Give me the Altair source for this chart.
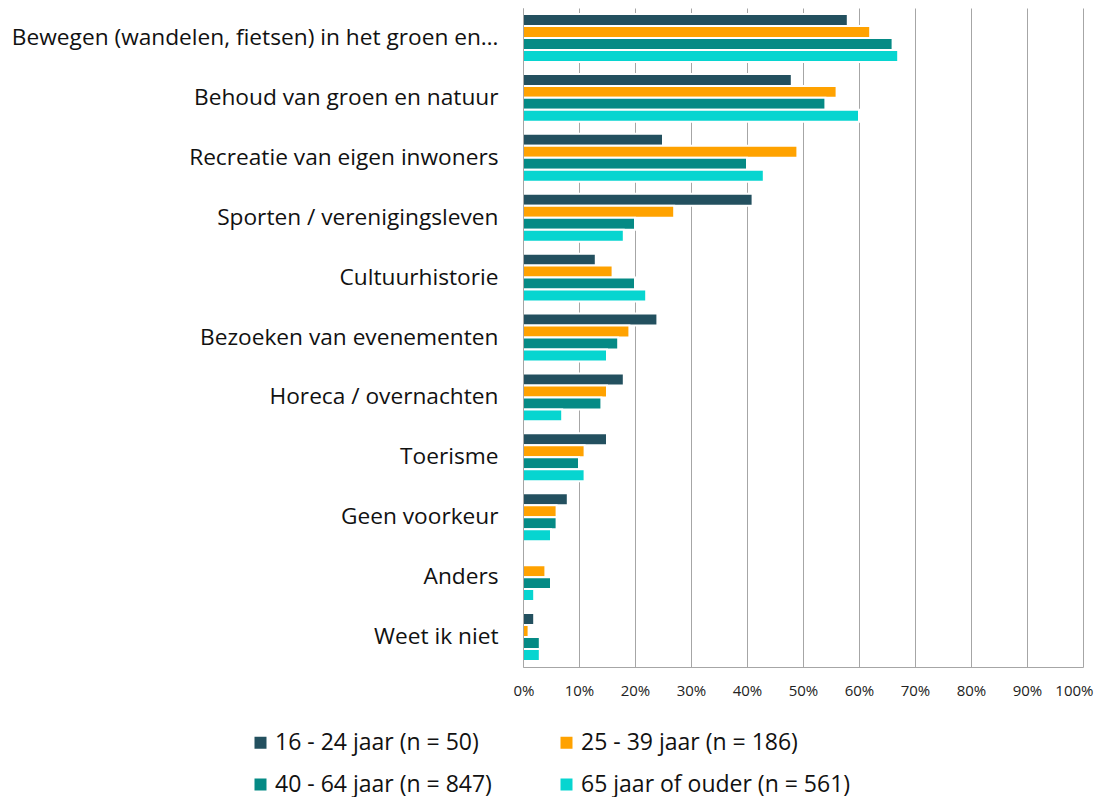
import altair as alt
import pandas as pd

categories = [
    "Bewegen (wandelen, fietsen) in het groen en…",
    "Behoud van groen en natuur",
    "Recreatie van eigen inwoners",
    "Sporten / verenigingsleven",
    "Cultuurhistorie",
    "Bezoeken van evenementen",
    "Horeca / overnachten",
    "Toerisme",
    "Geen voorkeur",
    "Anders",
    "Weet ik niet",
]
groups = [
    "16 - 24 jaar (n = 50)",
    "25 - 39 jaar (n = 186)",
    "40 - 64 jaar (n = 847)",
    "65 jaar of ouder (n = 561)",
]
v_16_24 = [58, 48, 25, 41, 13, 24, 18, 15, 8, 0, 2]
v_25_39 = [62, 56, 49, 27, 16, 19, 15, 11, 6, 4, 1]
v_40_64 = [66, 54, 40, 20, 20, 17, 14, 10, 6, 5, 3]
v_65 = [67, 60, 43, 18, 22, 15, 7, 11, 5, 2, 3]
colors = ["#23505F", "#FFA200", "#058A85", "#07D5D0"]

rows = []
for g, vals in zip(groups, [v_16_24, v_25_39, v_40_64, v_65]):
    for c, v in zip(categories, vals):
        rows.append({"cat": c, "group": g, "value": v})
df = pd.DataFrame(rows)

FONT = "Open Sans"

chart = alt.Chart(df).mark_bar(stroke="white", strokeWidth=2).encode(
    x=alt.X(
        "value:Q",
        scale=alt.Scale(domain=[0, 100]),
        axis=alt.Axis(
            values=list(range(0, 101, 10)),
            labelExpr="datum.value + '%'",
            labelFlush=True,
            labelFlushOffset=10,
            grid=True,
            gridColor="#A6A6A6",
            gridWidth=1,
            domainColor="#A6A6A6",
            ticks=False,
            labelFontSize=15,
            labelPadding=16,
            labelColor="#222222",
            title=None,
        ),
    ),
    y=alt.Y(
        "cat:N",
        sort=categories,
        scale=alt.Scale(paddingInner=0.2, paddingOuter=0.1),
        axis=alt.Axis(
            title=None,
            ticks=False,
            domainColor="#A6A6A6",
            labelFontSize=22.7,
            labelPadding=25,
            labelLimit=0,
            labelColor="#111111",
            zindex=1,
        ),
    ),
    yOffset=alt.YOffset("group:N", sort=groups, scale=alt.Scale(paddingInner=0, paddingOuter=0)),
    color=alt.Color(
        "group:N",
        sort=groups,
        scale=alt.Scale(domain=groups, range=colors),
        legend=alt.Legend(
            title=None,
            orient="none",
            legendX=-274,
            legendY=723,
            direction="horizontal",
            columns=2,
            symbolType="square",
            symbolSize=144,
            symbolStrokeWidth=0,
            labelFontSize=23,
            labelOffset=3,
            labelColor="#111111",
            columnPadding=63,
            rowPadding=18,
            padding=0,
            labelLimit=0,
        ),
    ),
).properties(
    width=560,
    height=659,
    autosize=alt.AutoSizeParams(type="none"),
    padding={"left": 515, "right": 14, "top": 0, "bottom": 130},
).configure(font=FONT).configure_view(stroke=None)

chart.save("out.html", embed_options={"renderer": "svg", "actions": False})
